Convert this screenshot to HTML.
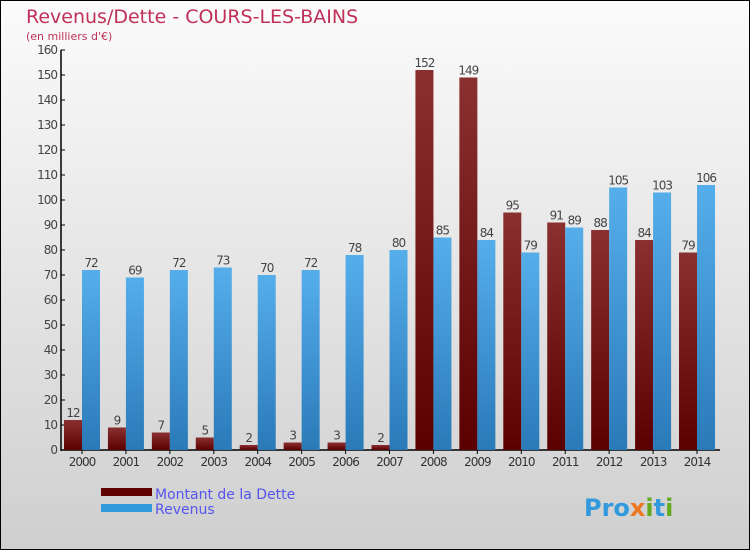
<!DOCTYPE html>
<html><head><meta charset="utf-8"><style>
body{margin:0;width:750px;height:550px;overflow:hidden}
svg{display:block;font-family:"DejaVu Sans","Liberation Sans",sans-serif}
</style></head><body>
<svg width="750" height="550" xmlns="http://www.w3.org/2000/svg">
<defs>
<linearGradient id="bg" x1="0" y1="0" x2="0" y2="1"><stop offset="0" stop-color="#fbfbfb"/><stop offset="1" stop-color="#cfcfcf"/></linearGradient>
<linearGradient id="rg" x1="0" y1="0" x2="0" y2="1"><stop offset="0" stop-color="#8a3030"/><stop offset="1" stop-color="#5a0000"/></linearGradient>
<linearGradient id="bgr" x1="0" y1="0" x2="0" y2="1"><stop offset="0" stop-color="#55aeea"/><stop offset="1" stop-color="#2a7ab8"/></linearGradient>
</defs>
<rect x="0.5" y="0.5" width="749" height="549" fill="url(#bg)" stroke="#000"/>
<text x="26" y="23" font-size="19" fill="#c0305a">Revenus/Dette - COURS-LES-BAINS</text>
<text x="26" y="40" font-size="11" fill="#c0305a">(en milliers d'€)</text>
<g id="plot"></g>
<g>
<rect x="101" y="488" width="51" height="8" fill="#600000"/>
<text x="155" y="499" font-size="14" fill="#5555ee">Montant de la Dette</text>
<rect x="101" y="504" width="51" height="8" fill="#3399dd"/>
<text x="155" y="514" font-size="14" fill="#5555ee">Revenus</text>
</g>
<text x="584" y="516" font-size="24" font-weight="bold" fill="#3399dd">Pro<tspan fill="#ee7722">x</tspan><tspan fill="#66aa22">i</tspan>t<tspan fill="#66aa22">i</tspan></text>
</svg>
<script>
const years=["2000","2001","2002","2003","2004","2005","2006","2007","2008","2009","2010","2011","2012","2013","2014"];
const dette=[12,9,7,5,2,3,3,2,152,149,95,91,88,84,79];
const revenus=[72,69,72,73,70,72,78,80,85,84,79,89,105,103,106];
const yTicks=[0,10,20,30,40,50,60,70,80,90,100,110,120,130,140,150,160];
const NS="http://www.w3.org/2000/svg";
const g=document.getElementById('plot');
const y=v=>450-v*2.5;
const xc=i=>82+i*43.93;
function mk(t,a,p){const e=document.createElementNS(NS,t);for(const k in a)e.setAttribute(k,a[k]);(p||g).appendChild(e);return e;}
const ax=mk('line',{x1:61,y1:50,x2:61,y2:451,stroke:'#000','stroke-width':1.5});


const bx=mk('line',{x1:61,y1:450,x2:720,y2:450,stroke:'#000','stroke-width':1.5});


yTicks.forEach(v=>{
 mk('line',{x1:61,y1:y(v),x2:65,y2:y(v),stroke:'#000'});
 const t=mk('text',{x:57,y:y(v)+4,'font-size':12,fill:'#444','text-anchor':'end','letter-spacing':'-1'});t.textContent=v;
 
 
});
years.forEach((yr,i)=>{
 const c=xc(i);
 mk('line',{x1:c,y1:450,x2:c,y2:454,stroke:'#000'});
 const t=mk('text',{x:c,y:466,'font-size':12,fill:'#333','text-anchor':'middle','letter-spacing':'-1'});t.textContent=yr;
 
 
 const r=mk('rect',{x:c-18,y:y(dette[i]),width:18,height:dette[i]*2.5,fill:'url(#rg)'});
 
 
 const b=mk('rect',{x:c,y:y(revenus[i]),width:18,height:revenus[i]*2.5,fill:'url(#bgr)'});
 
 
 const l1=mk('text',{x:c-9,y:y(dette[i])-3,'font-size':12,fill:'#444','text-anchor':'middle','letter-spacing':'-1'});l1.textContent=dette[i];
 
 
 const l2=mk('text',{x:c+9,y:y(revenus[i])-3,'font-size':12,fill:'#444','text-anchor':'middle','letter-spacing':'-1'});l2.textContent=revenus[i];
 
 
});
</script>
</body></html>
